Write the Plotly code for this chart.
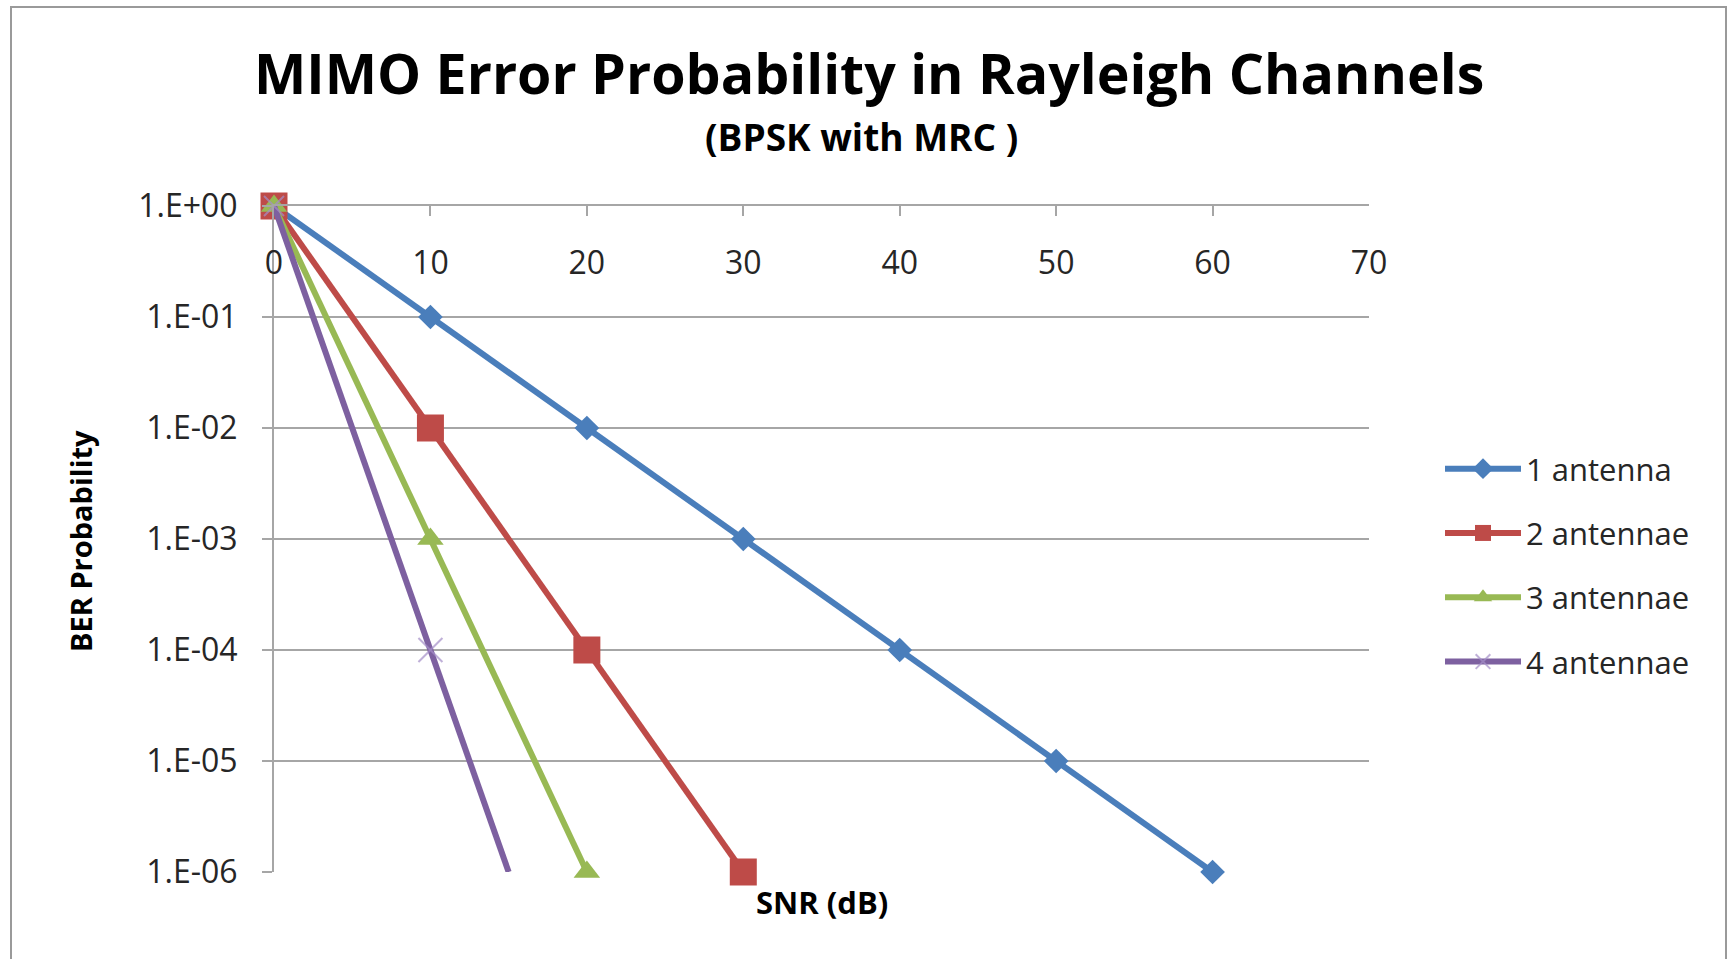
import plotly.graph_objects as go

# ---- data ----
snr_1 = [0, 10, 20, 30, 40, 50, 60]
ber_1 = [1, 1e-1, 1e-2, 1e-3, 1e-4, 1e-5, 1e-6]
snr_2 = [0, 10, 20, 30]
ber_2 = [1, 1e-2, 1e-4, 1e-6]
snr_3 = [0, 10, 20]
ber_3 = [1, 1e-3, 1e-6]
snr_4 = [0, 10, 15]
ber_4 = [1, 1e-4, 1e-6]
series_names = ["1 antenna", "2 antennae", "3 antennae", "4 antennae"]
y_tick_vals = [1, 1e-1, 1e-2, 1e-3, 1e-4, 1e-5, 1e-6]
y_tick_text = ["1.E+00", "1.E-01", "1.E-02", "1.E-03", "1.E-04", "1.E-05", "1.E-06"]
x_tick_vals = [0, 10, 20, 30, 40, 50, 60, 70]

W, H = 1731, 959
L, R, T, B = 274, 1369, 206, 872  # plot area in px
pw, ph = R - L, B - T


def px_x(px):
    return (px - L) / pw


def px_y(py):
    return (B - py) / ph


FONT = "Open Sans"
TXT = "#262626"
AX = "#A6A6A6"

fig = go.Figure()

fig.add_trace(go.Scatter(
    x=snr_1, y=ber_1, name=series_names[0], mode="lines+markers", legendgroup="a",
    line=dict(color="#4A7EBB", width=6),
    marker=dict(symbol="diamond", size=19, color="#4A7EBB"), cliponaxis=False))
fig.add_trace(go.Scatter(
    x=snr_2, y=ber_2, name=series_names[1], mode="lines+markers", legendgroup="b",
    line=dict(color="#BE4B48", width=6),
    marker=dict(symbol="square", size=27, color="#BE4B48"), cliponaxis=False))
fig.add_trace(go.Scatter(
    x=snr_3, y=ber_3, name=series_names[2], mode="lines+markers", legendgroup="c",
    line=dict(color="#98B954", width=6),
    marker=dict(symbol="triangle-up", size=23, color="#98B954"), cliponaxis=False))
fig.add_trace(go.Scatter(
    x=snr_4, y=ber_4, name=series_names[3], mode="lines+markers", legendgroup="d",
    line=dict(color="#7D60A0", width=6),
    marker=dict(symbol="x-thin", size=[20, 24, 0], color="#A58FC8",
                line=dict(color="#A58FC8", width=2)), cliponaxis=False))
# invisible carrier so the tick-label axis (x2) is rendered
fig.add_trace(go.Scatter(
    x=snr_1, y=ber_1, xaxis="x2", yaxis="y", mode="markers", showlegend=False,
    hoverinfo="skip", marker=dict(opacity=0, size=1)))

fig.update_layout(
    width=W, height=H,
    margin=dict(l=L, r=W - R, t=T, b=H - B, pad=0),
    paper_bgcolor="white", plot_bgcolor="white",
    font=dict(family=FONT, size=30, color=TXT),
    showlegend=True,
    legend=dict(x=px_x(1440), y=px_y(442), xanchor="left", yanchor="top",
                font=dict(family=FONT, size=31, color=TXT),
                bgcolor="rgba(0,0,0,0)", borderwidth=0,
                traceorder="grouped", tracegroupgap=21, itemwidth=76),
    xaxis=dict(range=[0, 70], side="top", showline=True, linecolor=AX, linewidth=2,
               ticks="inside", ticklen=10, tickwidth=2, tickcolor=AX,
               tickvals=x_tick_vals, showticklabels=False,
               showgrid=False, zeroline=False),
    xaxis2=dict(range=[0, 70], overlaying="x", anchor="free", position=px_y(241),
                side="bottom", showline=False, ticks="", tickvals=x_tick_vals,
                showgrid=False, zeroline=False,
                tickfont=dict(family=FONT, size=32, color=TXT)),
    yaxis=dict(type="log", range=[-6, 0], tickvals=y_tick_vals, ticktext=y_tick_text,
               showline=True, linecolor=AX, linewidth=2,
               ticks="outside", ticklen=10, tickwidth=2, tickcolor=AX,
               showgrid=True, gridcolor=AX, gridwidth=2, zeroline=False,
               ticklabelstandoff=18,
               tickfont=dict(family=FONT, size=32, color=TXT)),
)

annotations = [
    dict(text="<b>MIMO Error Probability in Rayleigh Channels</b>", x=px_x(869), y=px_y(72),
         font=dict(family=FONT, size=55.5, color="black")),
    dict(text="<b>(BPSK with MRC )</b>", x=px_x(861), y=px_y(137),
         font=dict(family=FONT, size=37, color="black")),
    dict(text="<b>BER Probability</b>", x=px_x(80), y=px_y(541), textangle=-90,
         font=dict(family=FONT, size=29, color="black")),
    dict(text="<b>SNR (dB)</b>", x=px_x(822), y=px_y(902),
         font=dict(family=FONT, size=31, color="black")),
]
for a in annotations:
    a.update(xref="paper", yref="paper", xanchor="center", yanchor="middle", showarrow=False)
fig.update_layout(annotations=annotations)

# outer chart frame
fig.add_shape(type="rect", xref="paper", yref="paper",
              x0=px_x(11), x1=px_x(1726), y0=px_y(975), y1=px_y(7),
              line=dict(color="#9A9A9A", width=2), fillcolor="rgba(0,0,0,0)", layer="below")

fig.write_html("out.html", config={"displayModeBar": False},
               post_script="document.body.style.margin='0';document.body.style.overflow='hidden';")
